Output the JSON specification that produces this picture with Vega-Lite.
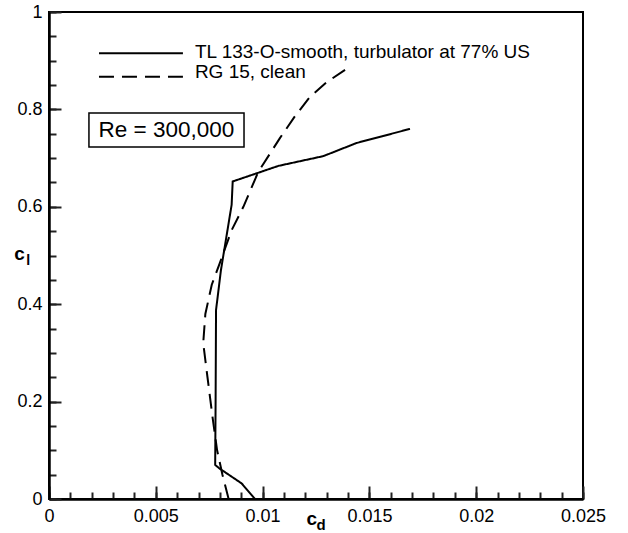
{
  "$schema": "https://vega.github.io/schema/vega-lite/v6.json",
  "width": 534,
  "height": 487,
  "autosize": {"type": "none"},
  "padding": {"left": 49, "top": 12, "right": 45, "bottom": 34},
  "background": "white",
  "config": {
    "view": {"stroke": "black", "strokeWidth": 2},
    "font": "Liberation Sans",
    "axis": {"ticks": true, "tickColor": "#222222", "tickWidth": 2, "tickOpacity": 1}
  },
  "datasets": {
    "polar": [
      {"series": "TL 133-O-smooth, turbulator at 77% US", "i": 0, "cd": 0.00964, "cl": 0.0},
      {"series": "TL 133-O-smooth, turbulator at 77% US", "i": 1, "cd": 0.00902, "cl": 0.032},
      {"series": "TL 133-O-smooth, turbulator at 77% US", "i": 2, "cd": 0.00797, "cl": 0.063},
      {"series": "TL 133-O-smooth, turbulator at 77% US", "i": 3, "cd": 0.00778, "cl": 0.07},
      {"series": "TL 133-O-smooth, turbulator at 77% US", "i": 4, "cd": 0.0078, "cl": 0.2},
      {"series": "TL 133-O-smooth, turbulator at 77% US", "i": 5, "cd": 0.00782, "cl": 0.388},
      {"series": "TL 133-O-smooth, turbulator at 77% US", "i": 6, "cd": 0.00805, "cl": 0.47},
      {"series": "TL 133-O-smooth, turbulator at 77% US", "i": 7, "cd": 0.00855, "cl": 0.604},
      {"series": "TL 133-O-smooth, turbulator at 77% US", "i": 8, "cd": 0.0086, "cl": 0.652},
      {"series": "TL 133-O-smooth, turbulator at 77% US", "i": 9, "cd": 0.01074, "cl": 0.684},
      {"series": "TL 133-O-smooth, turbulator at 77% US", "i": 10, "cd": 0.01284, "cl": 0.704},
      {"series": "TL 133-O-smooth, turbulator at 77% US", "i": 11, "cd": 0.0144, "cl": 0.731},
      {"series": "TL 133-O-smooth, turbulator at 77% US", "i": 12, "cd": 0.0169, "cl": 0.76},
      {"series": "RG 15, clean", "i": 0, "cd": 0.00841, "cl": 0.0},
      {"series": "RG 15, clean", "i": 1, "cd": 0.00812, "cl": 0.05},
      {"series": "RG 15, clean", "i": 2, "cd": 0.00787, "cl": 0.1},
      {"series": "RG 15, clean", "i": 3, "cd": 0.00765, "cl": 0.17},
      {"series": "RG 15, clean", "i": 4, "cd": 0.00742, "cl": 0.25},
      {"series": "RG 15, clean", "i": 5, "cd": 0.00722, "cl": 0.32},
      {"series": "RG 15, clean", "i": 6, "cd": 0.00732, "cl": 0.38},
      {"series": "RG 15, clean", "i": 7, "cd": 0.00762, "cl": 0.44},
      {"series": "RG 15, clean", "i": 8, "cd": 0.008, "cl": 0.485},
      {"series": "RG 15, clean", "i": 9, "cd": 0.00855, "cl": 0.552},
      {"series": "RG 15, clean", "i": 10, "cd": 0.0091, "cl": 0.6},
      {"series": "RG 15, clean", "i": 11, "cd": 0.0098, "cl": 0.672},
      {"series": "RG 15, clean", "i": 12, "cd": 0.01043, "cl": 0.715},
      {"series": "RG 15, clean", "i": 13, "cd": 0.01081, "cl": 0.741},
      {"series": "RG 15, clean", "i": 14, "cd": 0.0115, "cl": 0.785},
      {"series": "RG 15, clean", "i": 15, "cd": 0.01222, "cl": 0.826},
      {"series": "RG 15, clean", "i": 16, "cd": 0.013, "cl": 0.856},
      {"series": "RG 15, clean", "i": 17, "cd": 0.01386, "cl": 0.881}
    ],
    "legend": [
      {"series": "TL 133-O-smooth, turbulator at 77% US"},
      {"series": "RG 15, clean"}
    ],
    "notes": [
      {"label": "Re = 300,000"}
    ]
  },
  "layer": [
    {
      "data": {"name": "notes"},
      "mark": {"type": "rect", "fill": "white", "stroke": "black", "strokeWidth": 1.5},
      "encoding": {
        "x": {"datum": 0.00187, "type": "quantitative", "scale": {"domain": [0, 0.025], "nice": false, "zero": false},
          "axis": {"orient": "bottom", "values": [0,0.001,0.002,0.003,0.004,0.005,0.006,0.007,0.008,0.009,0.01,0.011,0.012,0.013,0.014,0.015,0.016,0.017,0.018,0.019,0.02,0.021,0.022,0.023,0.024,0.025],
            "tickSize": -7, "labels": false, "domain": false, "grid": false, "title": null}},
        "x2": {"datum": 0.00913},
        "y": {"datum": 0.7926, "type": "quantitative", "scale": {"domain": [0, 1], "nice": false, "zero": false},
          "axis": {"orient": "left", "values": [0,0.05,0.1,0.15,0.2,0.25,0.3,0.35,0.4,0.45,0.5,0.55,0.6,0.65,0.7,0.75,0.8,0.85,0.9,0.95,1],
            "tickSize": -7, "labels": false, "domain": false, "grid": false, "title": null}},
        "y2": {"datum": 0.7228}
      }
    },
    {
      "data": {"name": "notes"},
      "mark": {"type": "text", "fontSize": 22.5, "font": "Liberation Sans", "color": "black", "align": "center", "baseline": "middle"},
      "encoding": {
        "x": {"datum": 0.0055, "type": "quantitative", "scale": {"domain": [0, 0.025], "nice": false, "zero": false}, "axis": null},
        "y": {"datum": 0.757, "type": "quantitative", "scale": {"domain": [0, 1], "nice": false, "zero": false}, "axis": null},
        "text": {"field": "label"}
      }
    },
    {
      "data": {"name": "polar"},
      "mark": {"type": "line", "color": "black", "strokeWidth": 2},
      "encoding": {
        "x": {"field": "cd", "type": "quantitative", "scale": {"domain": [0, 0.025], "nice": false, "zero": false},
          "axis": {"orient": "bottom", "values": [0, 0.005, 0.01, 0.015, 0.02, 0.025], "format": "~g", "tickSize": -13,
            "domain": true, "domainColor": "black", "domainWidth": 2.5, "labelFontSize": 18, "labelFont": "Liberation Sans", "labelColor": "black", "labelPadding": 21,
            "labelFlush": false, "labelOverlap": false, "grid": false, "title": null}},
        "y": {"field": "cl", "type": "quantitative", "scale": {"domain": [0, 1], "nice": false, "zero": false},
          "axis": {"orient": "left", "values": [0, 0.2, 0.4, 0.6, 0.8, 1], "format": "~g", "tickSize": -12,
            "domain": true, "domainColor": "black", "domainWidth": 2.5, "labelFontSize": 18, "labelFont": "Liberation Sans", "labelColor": "black", "labelPadding": 19,
            "labelFlush": false, "labelOverlap": false, "grid": false, "title": null}},
        "order": {"field": "i", "type": "quantitative"},
        "strokeDash": {"field": "series", "type": "nominal",
          "scale": {"domain": ["TL 133-O-smooth, turbulator at 77% US", "RG 15, clean"], "range": [[1, 0], [15, 8]]},
          "legend": null}
      }
    },
    {
      "data": {"name": "legend"},
      "transform": [{"filter": "datum.series === 'TL 133-O-smooth, turbulator at 77% US'"}],
      "layer": [
        {
          "mark": {"type": "rule", "color": "black", "strokeWidth": 2},
          "encoding": {
            "x": {"datum": 0.00234, "type": "quantitative", "scale": {"domain": [0, 0.025], "nice": false, "zero": false}, "axis": null},
            "x2": {"datum": 0.00627},
            "y": {"datum": 0.9152, "type": "quantitative", "scale": {"domain": [0, 1], "nice": false, "zero": false}, "axis": null},
            "strokeDash": {"field": "series", "type": "nominal", "legend": null}
          }
        },
        {
          "mark": {"type": "text", "fontSize": 19, "font": "Liberation Sans", "color": "black", "align": "left", "baseline": "alphabetic"},
          "encoding": {
            "x": {"datum": 0.00683, "type": "quantitative", "scale": {"domain": [0, 0.025], "nice": false, "zero": false}, "axis": null},
            "y": {"datum": 0.9055, "type": "quantitative", "scale": {"domain": [0, 1], "nice": false, "zero": false}, "axis": null},
            "text": {"field": "series"}
          }
        }
      ]
    },
    {
      "data": {"name": "legend"},
      "transform": [{"filter": "datum.series === 'RG 15, clean'"}],
      "layer": [
        {
          "mark": {"type": "rule", "color": "black", "strokeWidth": 2},
          "encoding": {
            "x": {"datum": 0.00234, "type": "quantitative", "scale": {"domain": [0, 0.025], "nice": false, "zero": false}, "axis": null},
            "x2": {"datum": 0.00627},
            "y": {"datum": 0.8672, "type": "quantitative", "scale": {"domain": [0, 1], "nice": false, "zero": false}, "axis": null},
            "strokeDash": {"field": "series", "type": "nominal", "legend": null}
          }
        },
        {
          "mark": {"type": "text", "fontSize": 19, "font": "Liberation Sans", "color": "black", "align": "left", "baseline": "alphabetic"},
          "encoding": {
            "x": {"datum": 0.00683, "type": "quantitative", "scale": {"domain": [0, 0.025], "nice": false, "zero": false}, "axis": null},
            "y": {"datum": 0.8645, "type": "quantitative", "scale": {"domain": [0, 1], "nice": false, "zero": false}, "axis": null},
            "text": {"field": "series"}
          }
        }
      ]
    },
    {
      "data": {"values": [{"t": "c"}]},
      "mark": {"type": "text", "fontSize": 19, "fontWeight": "bold", "font": "Liberation Sans", "color": "black", "align": "center", "baseline": "alphabetic"},
      "encoding": {
        "x": {"datum": -0.00138, "type": "quantitative", "scale": {"domain": [0, 0.025], "nice": false, "zero": false}, "axis": null},
        "y": {"datum": 0.4908, "type": "quantitative", "scale": {"domain": [0, 1], "nice": false, "zero": false}, "axis": null},
        "text": {"field": "t"}
      }
    },
    {
      "data": {"values": [{"t": "l"}]},
      "mark": {"type": "text", "fontSize": 14, "fontWeight": "bold", "font": "Liberation Sans", "color": "black", "align": "center", "baseline": "alphabetic"},
      "encoding": {
        "x": {"datum": -0.00098, "type": "quantitative", "scale": {"domain": [0, 0.025], "nice": false, "zero": false}, "axis": null},
        "y": {"datum": 0.4805, "type": "quantitative", "scale": {"domain": [0, 1], "nice": false, "zero": false}, "axis": null},
        "text": {"field": "t"}
      }
    },
    {
      "data": {"values": [{"t": "c"}]},
      "mark": {"type": "text", "fontSize": 19, "fontWeight": "bold", "font": "Liberation Sans", "color": "black", "align": "center", "baseline": "alphabetic"},
      "encoding": {
        "x": {"datum": 0.0123, "type": "quantitative", "scale": {"domain": [0, 0.025], "nice": false, "zero": false}, "axis": null},
        "y": {"datum": -0.0534, "type": "quantitative", "scale": {"domain": [0, 1], "nice": false, "zero": false}, "axis": null},
        "text": {"field": "t"}
      }
    },
    {
      "data": {"values": [{"t": "d"}]},
      "mark": {"type": "text", "fontSize": 15, "fontWeight": "bold", "font": "Liberation Sans", "color": "black", "align": "center", "baseline": "alphabetic"},
      "encoding": {
        "x": {"datum": 0.01274, "type": "quantitative", "scale": {"domain": [0, 0.025], "nice": false, "zero": false}, "axis": null},
        "y": {"datum": -0.0637, "type": "quantitative", "scale": {"domain": [0, 1], "nice": false, "zero": false}, "axis": null},
        "text": {"field": "t"}
      }
    }
  ],
  "resolve": {"axis": {"x": "independent", "y": "independent"}}
}
